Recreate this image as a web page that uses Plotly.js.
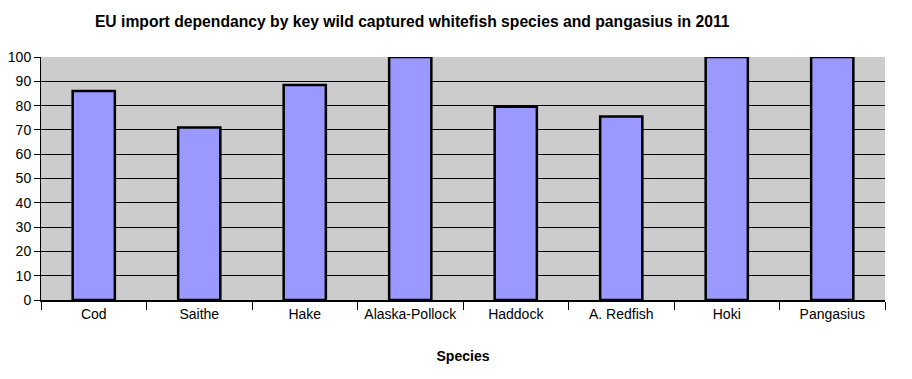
<!DOCTYPE html>
<html><head><meta charset="utf-8">
<script src="https://cdn.plot.ly/plotly-3.0.1.min.js"></script>
<style>html,body{margin:0;padding:0;background:#fff;}</style>
</head><body>
<div id="chart" style="width:912px;height:379px;"></div>
<script>
const categories = ["Cod","Saithe","Hake","Alaska-Pollock","Haddock","A. Redfish","Hoki","Pangasius"];
const values = [86, 71, 88.5, 100, 79.5, 75.5, 100, 100];
const yTicks = [0,10,20,30,40,50,60,70,80,90,100];

const trace = {
  type: 'bar', x: categories, y: values,
  marker: {color: '#9999ff', line: {color: '#000', width: 2.5}},
  hoverinfo: 'none'
};
const layout = {
  width: 912, height: 379,
  margin: {l: 41, r: 27, t: 57, b: 79},
  paper_bgcolor: '#fff', plot_bgcolor: '#cccccc',
  bargap: 0.6,
  showlegend: false,
  font: {family: 'Liberation Sans, Arial, sans-serif', color: '#000', size: 14},
  title: {text: '<b>EU import dependancy by key wild captured whitefish species and pangasius in 2011</b>',
    font: {size: 15.7, color: '#000'}, xref: 'container', x: 0.452, xanchor: 'center', yref: 'container', y: 0.942, yanchor: 'middle'},
  xaxis: {
    title: {text: '<b>Species</b>', font: {size: 14}, standoff: 30},
    showline: true, linecolor: '#000', linewidth: 2,
    tickson: 'boundaries', ticks: 'outside', ticklen: 8, tickcolor: '#000',
    tickfont: {size: 14},
    showgrid: false, fixedrange: true
  },
  yaxis: {
    range: [0, 100], tickvals: yTicks, ticktext: yTicks.map(String),
    showline: true, linecolor: '#000', linewidth: 1,
    ticks: 'outside', ticklen: 6, tickcolor: '#000', tickfont: {size: 14},
    showgrid: true, gridcolor: '#000', gridwidth: 1, zeroline: false,
    fixedrange: true
  }
};
Plotly.newPlot('chart', [trace], layout, {staticPlot: true, displayModeBar: false});
</script>
</body></html>
